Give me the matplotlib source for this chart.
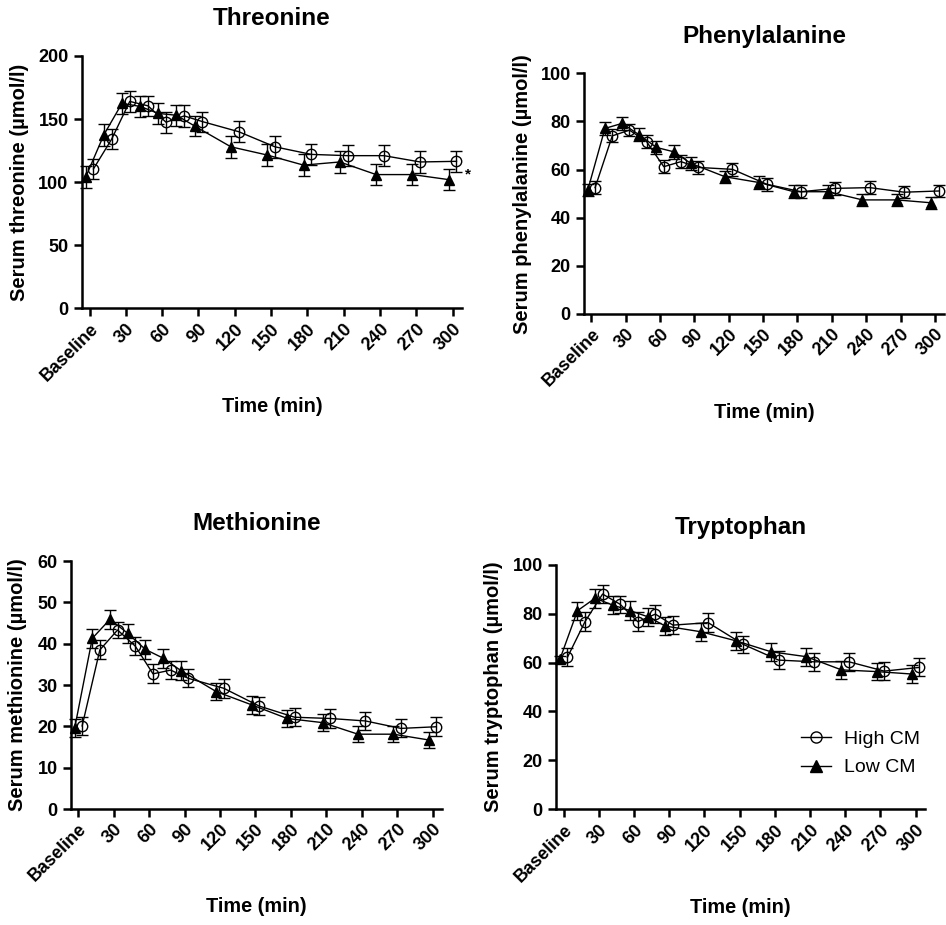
import matplotlib
matplotlib.use("Agg")
import matplotlib.pyplot as plt
from matplotlib.lines import Line2D
from matplotlib.ticker import MultipleLocator

plt.rcParams["font.family"] = ["Liberation Sans", "DejaVu Sans"]
plt.rcParams["font.weight"] = "bold"
plt.rcParams["axes.labelweight"] = "bold"
plt.rcParams["axes.titleweight"] = "bold"

time_min = [0, 15, 30, 45, 60, 75, 90, 120, 150, 180, 210, 240, 270, 300]
tick_pos = [0, 30, 60, 90, 120, 150, 180, 210, 240, 270, 300]
tick_labels = ["Baseline", "30", "60", "90", "120", "150", "180", "210",
               "240", "270", "300"]

# Threonine
thr_high = [110.5, 134, 164, 160.5, 147.5, 152.5, 148, 140, 128, 122, 121, 121, 116, 116.5]
thr_high_err = [8, 8, 8, 8, 8.5, 8.5, 8, 8.5, 8.5, 8.5, 8.5, 8.5, 8.5, 8.5]
thr_low = [104, 137.5, 162.5, 160, 154.5, 153, 144.5, 128, 121.5, 113.5, 116, 106, 106, 102]
thr_low_err = [8.5, 8.5, 8.5, 8.5, 8.5, 8.5, 8, 8.5, 8.5, 8.5, 8.5, 8.5, 8.5, 8.5]

# Phenylalanine
phe_high = [52.5, 74, 76.4, 71.6, 61.2, 63.3, 60.9, 60.1, 53.9, 50.8, 52.2, 52.5, 50.6, 51.1]
phe_high_err = [2.7, 2.7, 2.6, 2.7, 2.6, 2.6, 2.7, 2.7, 2.7, 2.7, 2.7, 2.7, 2.6, 2.6]
phe_low = [51.5, 77.1, 79.2, 74.4, 69.2, 67.4, 62.6, 57, 54.6, 50.8, 50.8, 47.4, 47.4, 46.2]
phe_low_err = [2.5, 2.8, 2.8, 2.7, 2.8, 2.8, 2.8, 2.5, 2.6, 2.6, 2.6, 2.6, 2.5, 2.5]

# Methionine
met_high = [20.1, 38.5, 43.3, 39.4, 32.7, 33.6, 31.6, 29.2, 24.9, 22.2, 21.9, 21.3, 19.5, 19.9]
met_high_err = [2.2, 2.3, 2.0, 2.2, 2.3, 2.2, 2.2, 2.3, 2.2, 2.2, 2.2, 2.2, 2.2, 2.3]
met_low = [19.5, 41.3, 45.9, 42.5, 38.6, 36.5, 33.5, 28.4, 25.2, 21.9, 20.9, 18.1, 18.1, 16.7]
met_low_err = [2.2, 2.3, 2.3, 2.3, 2.3, 2.3, 2.3, 2.1, 2.1, 2.1, 2.1, 2.0, 2.0, 2.0]

# Tryptophan
trp_high = [62.1, 76.7, 88, 83.8, 76.7, 79.8, 75.3, 76.3, 67.4, 61, 60.3, 60.3, 56.5, 58]
trp_high_err = [3.7, 3.8, 3.5, 3.6, 3.8, 3.7, 3.7, 3.8, 3.6, 3.7, 3.7, 3.7, 3.6, 3.7]
trp_low = [61.3, 81.2, 86.3, 83.5, 81.2, 78.7, 74.9, 72.6, 68.9, 64.4, 62.4, 57, 56.3, 55.3]
trp_low_err = [1.5, 3.7, 3.8, 3.6, 3.8, 3.7, 3.6, 3.6, 3.7, 3.7, 3.7, 3.6, 3.6, 3.5]

W, H = 946, 925
fig = plt.figure(figsize=(W / 100, H / 100), dpi=100)


def px_axes(left, right, top, bottom):
    return fig.add_axes([left / W, 1 - bottom / H, (right - left) / W, (bottom - top) / H])


panels = [
    # title, ylabel, high, high_err, low, low_err, ymax, ystep, box, ylabel offset px
    ("Threonine", "Serum threonine (µmol/l)", thr_high, thr_high_err, thr_low, thr_low_err,
     200, 50, (81.7, 462.3, 56, 308.3), 62),
    ("Phenylalanine", "Serum phenylalanine (µmol/l)", phe_high, phe_high_err, phe_low, phe_low_err,
     100, 20, (584, 944, 73.3, 314), 62),
    ("Methionine", "Serum methionine (µmol/l)", met_high, met_high_err, met_low, met_low_err,
     60, 10, (70.7, 442, 561, 809), 53),
    ("Tryptophan", "Serum tryptophan (µmol/l)", trp_high, trp_high_err, trp_low, trp_low_err,
     100, 20, (556, 925, 564.7, 809.3), 63),
]

shift = 3.2
axes = []
for title, ylab, hi, hi_err, lo, lo_err, ymax, ystep, box, yoff in panels:
    ax = px_axes(*box)
    axes.append(ax)
    w_px = box[1] - box[0]
    h_px = box[3] - box[2]

    lo_x = [t - shift for t in time_min]
    hi_x = [t + shift for t in time_min]
    ax.errorbar(lo_x, lo, yerr=lo_err, color="black", lw=1.0, marker="^", ms=7.5,
                mfc="black", mec="black", capsize=4, elinewidth=1.0, capthick=1.0,
                clip_on=False, zorder=3)
    ax.errorbar(hi_x, hi, yerr=hi_err, color="black", lw=1.0, marker="o", ms=7.5,
                mfc="none", mec="black", mew=1.0, capsize=4, elinewidth=1.0,
                capthick=1.0, clip_on=False, zorder=4)

    ax.set_xlim(-6.5, 308)
    ax.set_ylim(0, ymax)
    ax.yaxis.set_major_locator(MultipleLocator(ystep))
    ax.set_xticks(tick_pos)
    ax.set_xticklabels(tick_labels, rotation=45, ha="right", rotation_mode="anchor")

    for side in ("top", "right"):
        ax.spines[side].set_visible(False)
    for side in ("left", "bottom"):
        ax.spines[side].set_linewidth(1.8)
    ax.tick_params(axis="both", width=1.8, length=5.5, labelsize=13, direction="out")
    ax.tick_params(axis="y", pad=4)
    ax.tick_params(axis="x", pad=3)
    for lab in ax.get_xticklabels() + ax.get_yticklabels():
        lab.set_fontweight("bold")

    ax.set_title(title, fontsize=17.5, fontweight="bold", pad=22)
    ax.set_ylabel(ylab, fontsize=14.5, fontweight="bold", va="center")
    ax.yaxis.set_label_coords(-yoff / w_px, 0.5)
    ax.set_xlabel("Time (min)", fontsize=14.3, fontweight="bold", va="center")
    ax.xaxis.set_label_coords(0.5, -98 / h_px)

# significance mark on threonine
axes[0].text(313, 106, "*", fontsize=11, ha="center", va="center", clip_on=False)

# legend on tryptophan panel (line + marker only, as in the original)
handles = [
    Line2D([], [], color="black", lw=1.0, marker="o", ms=8, mfc="none", mec="black"),
    Line2D([], [], color="black", lw=1.0, marker="^", ms=8, mfc="black", mec="black"),
]
leg = axes[3].legend(handles, ["High CM", "Low CM"], loc="center left",
                     bbox_to_anchor=(0.665, 0.228), frameon=False, fontsize=14,
                     handlelength=1.5, handletextpad=0.7, labelspacing=0.55,
                     borderpad=0, borderaxespad=0)
for txt in leg.get_texts():
    txt.set_fontweight("normal")

fig.savefig("out.png", dpi=100)
